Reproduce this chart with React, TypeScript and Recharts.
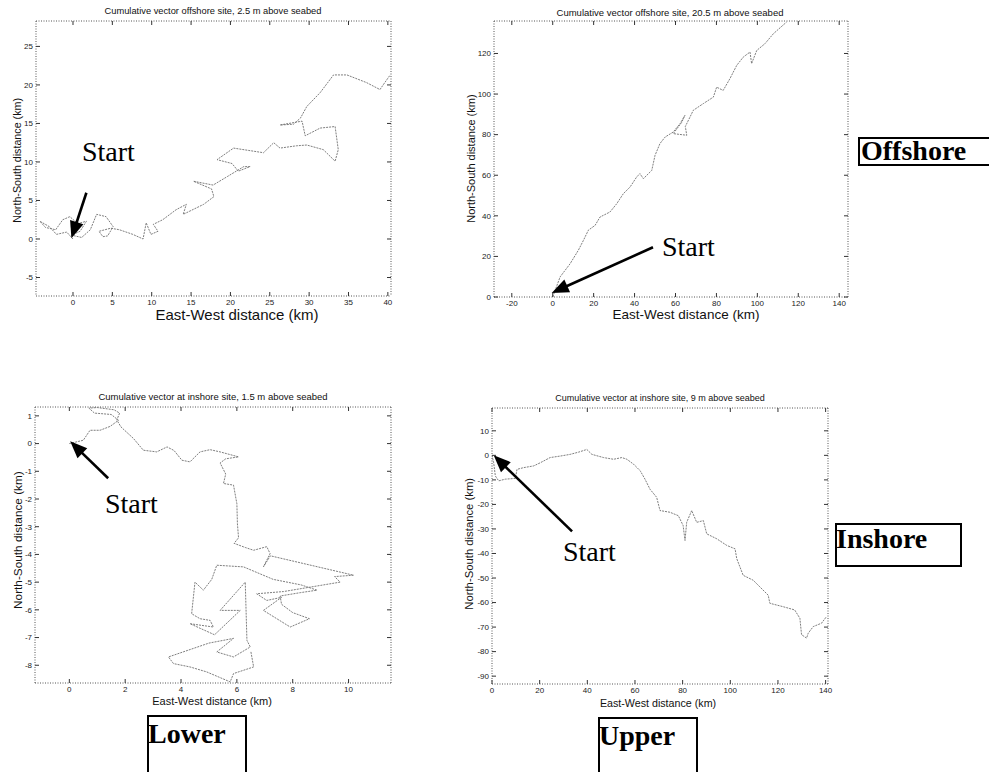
import { LineChart, Line, XAxis, YAxis, ReferenceLine } from 'recharts';

// offshore, 2.5 m above seabed (km)
const offLowX = [0, -0.8, -2.1, -3.0, -4.2, -3.5, -2.2, -1.3, -0.4, 0.6, 1.7, 0.9, -0.2, 1.1, 2.2, 3.0, 4.2, 5.1, 4.4, 3.8, 3.3, 4.8, 5.9, 7.6, 8.9, 9.3, 9.9, 10.8, 10.2, 11.4, 13.1, 14.4, 14.0, 16.6, 17.9, 17.6, 15.3, 17.8, 19.6, 21.7, 22.5, 21.0, 20.2, 18.3, 20.4, 24.2, 25.5, 26.3, 28.4, 29.7, 31.8, 33.3, 33.7, 33.3, 31.4, 29.5, 29.1, 26.3, 28.0, 28.9, 29.7, 31.4, 33.1, 34.8, 37.3, 39.0, 39.4, 40.3];
const offLowY = [0, 0.9, 0.6, 1.6, 2.3, 1.5, 1.2, 2.5, 2.9, 2.0, 2.3, 1.0, 0.5, 0.2, 1.2, 3.2, 2.9, 1.6, 0.4, 0.3, 1.0, 1.4, 1.2, 0.6, 0.0, 2.1, 0.6, 1.0, 1.9, 2.5, 3.8, 4.5, 3.2, 4.5, 5.5, 6.5, 7.5, 7.0, 8.1, 9.4, 9.4, 8.8, 9.8, 10.3, 11.8, 11.2, 12.5, 11.8, 12.1, 12.2, 11.6, 10.1, 11.6, 14.6, 14.4, 13.4, 15.3, 14.8, 14.9, 15.7, 17.2, 19.0, 21.3, 21.3, 20.3, 19.4, 20.0, 21.3];

// offshore, 20.5 m above seabed
const offUpX = [0, 3.6, 8.5, 12.5, 15.0, 17.4, 20.7, 23.1, 28.0, 31.3, 34.5, 37.8, 41.0, 42.6, 44.3, 48.4, 50.0, 52.4, 54.9, 58.9, 62.2, 64.6, 63.0, 58.9, 65.5, 64.8, 68.7, 73.6, 78.5, 80.1, 83.3, 86.6, 89.9, 93.1, 96.4, 97.2, 99.7, 103.7, 107.8, 114.3];
const offUpY = [0, 9.9, 16.4, 23.0, 27.9, 32.9, 35.3, 39.4, 41.9, 46.0, 50.9, 54.2, 59.1, 60.8, 58.3, 62.4, 69.8, 75.6, 78.8, 81.3, 85.4, 89.5, 86.0, 80.5, 79.7, 84.0, 92.0, 95.3, 98.5, 103.4, 101.8, 107.6, 114.1, 118.2, 120.7, 115.0, 121.5, 124.8, 129.7, 135.5];

// inshore, 1.5 m above seabed
const inLowX = [0, 0.5, 0.74, 1.1, 1.46, 1.76, 1.5, 0.9, 0.7, 1.0, 1.6, 1.8, 1.7, 1.85, 2.3, 2.65, 3.13, 3.5, 3.75, 4.03, 4.32, 4.68, 5.04, 5.4, 6.06, 5.6, 5.4, 5.6, 5.52, 5.88, 6.0, 6.02, 6.06, 5.9, 6.3, 6.6, 7.07, 7.19, 6.95, 7.2, 10.18, 9.5, 9.7, 7.67, 6.71, 7.07, 7.6, 6.95, 7.91, 8.6, 8.0, 7.6, 7.55, 8.27, 8.87, 8.3, 7.3, 6.24, 5.28, 5.1, 4.8, 4.5, 4.38, 4.68, 5.04, 5.16, 4.32, 5.2, 6.12, 5.4, 6.3, 6.36, 6.48, 5.88, 5.28, 5.88, 5.0, 3.55, 3.73, 4.32, 4.92, 5.76, 5.88, 6.6, 6.5];
const inLowY = [0, 0.12, 0.48, 0.48, 0.62, 0.84, 1.05, 1.1, 1.28, 1.3, 1.22, 1.1, 0.85, 0.6, 0.18, -0.24, -0.3, -0.12, -0.25, -0.6, -0.66, -0.3, -0.22, -0.3, -0.48, -0.55, -0.7, -1.1, -1.44, -1.5, -2.17, -2.9, -3.4, -3.6, -3.75, -3.85, -3.72, -3.97, -4.45, -4.05, -4.75, -4.8, -5.0, -5.34, -5.42, -5.66, -5.55, -6.02, -6.62, -6.32, -6.1, -5.8, -5.5, -5.38, -5.29, -5.1, -4.9, -4.45, -4.39, -4.9, -5.29, -5.0, -6.14, -6.32, -6.38, -6.62, -6.5, -6.9, -6.02, -6.02, -5.0, -7.1, -7.34, -7.7, -7.52, -7.03, -7.2, -7.7, -7.94, -8.06, -8.24, -8.6, -8.3, -8.06, -7.5];

// inshore, 9 m above seabed
const inUpX = [0, 0.7, 1.4, 2.8, 5.6, 9.8, 10.5, 13.3, 17.5, 20.3, 24.4, 28.6, 32.8, 36.3, 39.8, 41.9, 46.8, 51.0, 54.5, 56.6, 59.4, 62.2, 64.2, 66.3, 69.1, 70.5, 74.7, 78.2, 80.2, 81.0, 81.7, 83.8, 85.9, 88.7, 90.1, 94.3, 98.5, 102.0, 102.7, 105.4, 109.6, 112.4, 115.9, 116.6, 122.2, 127.0, 129.2, 129.9, 132.0, 132.7, 134.8, 138.3, 140.4];
const inUpY = [0, -3.0, -8.4, -10.4, -9.7, -9.4, -5.7, -5.0, -4.3, -3.0, -0.9, -0.3, 0.4, 1.3, 2.4, 0.4, -0.9, -1.6, -0.9, -1.6, -3.6, -6.3, -9.7, -13.8, -17.1, -22.5, -23.2, -24.6, -28.6, -34.7, -27.3, -22.5, -27.3, -26.6, -32.0, -34.0, -36.7, -38.1, -42.1, -48.9, -50.9, -53.6, -57.0, -60.3, -61.7, -63.0, -66.4, -73.1, -74.5, -72.5, -69.8, -68.4, -65.7];

const ticks1X = [0, 5, 10, 15, 20, 25, 30, 35, 40];
const ticks1Y = [-5, 0, 5, 10, 15, 20, 25];
const ticks2X = [-20, 0, 20, 40, 60, 80, 100, 120, 140];
const ticks2Y = [0, 20, 40, 60, 80, 100, 120];
const ticks3X = [0, 2, 4, 6, 8, 10];
const ticks3Y = [-8, -7, -6, -5, -4, -3, -2, -1, 0, 1];
const ticks4X = [0, 20, 40, 60, 80, 100, 120, 140];
const ticks4Y = [-90, -80, -70, -60, -50, -40, -30, -20, -10, 0, 10];

const titles = [
  'Cumulative vector offshore site, 2.5 m above seabed',
  'Cumulative vector offshore site, 20.5 m above seabed',
  'Cumulative vector at inshore site, 1.5 m above seabed',
  'Cumulative vector at inshore site, 9 m above seabed',
];

const zip = (xs: number[], ys: number[]) => xs.map((x, i) => ({ x, y: ys[i] }));

const axisLine = { stroke: '#555', strokeDasharray: '1 1.5' };
const tickLine = { stroke: '#333' };
const tickFont = { fontSize: 8, fill: '#222', fontFamily: 'Liberation Sans, Arial, sans-serif' };
const sans = 'Liberation Sans, Arial, sans-serif';
const serif = 'Liberation Serif, Times New Roman, serif';

const Arrow = (p: any) => {
  const { x1, y1, x2, y2 } = p;
  const dx = x2 - x1;
  const dy = y2 - y1;
  const len = Math.hypot(dx, dy) || 1;
  const ux = dx / len;
  const uy = dy / len;
  const hl = 17;
  const hw = 7;
  const bx = x2 - ux * hl;
  const by = y2 - uy * hl;
  return (
    <g>
      <line x1={x1} y1={y1} x2={bx + ux * 2} y2={by + uy * 2} stroke="#000" strokeWidth={2.6} />
      <polygon
        points={`${x2},${y2} ${bx - uy * hw},${by + ux * hw} ${bx + uy * hw},${by - ux * hw}`}
        fill="#000"
      />
    </g>
  );
};

interface PanelProps {
  box: { l: number; t: number; r: number; b: number };
  xs: number[];
  ys: number[];
  xDomain: [number, number];
  yDomain: [number, number];
  xTicks: number[];
  yTicks: number[];
  arrow: [{ x: number; y: number }, { x: number; y: number }];
}

function Panel({ box, xs, ys, xDomain, yDomain, xTicks, yTicks, arrow }: PanelProps) {
  const w = box.r - box.l;
  const h = box.b - box.t;
  return (
    <div style={{ position: 'absolute', left: box.l - 40, top: box.t - 10 }}>
      <LineChart
        width={w + 50}
        height={h + 30}
        data={zip(xs, ys)}
        margin={{ top: 9, right: 9, bottom: 0, left: 0 }}
      >
        <XAxis
          xAxisId="b"
          type="number"
          dataKey="x"
          domain={xDomain}
          ticks={xTicks}
          interval={0}
          allowDataOverflow
          height={20}
          tickSize={-4}
          tickMargin={7}
          axisLine={axisLine}
          tickLine={tickLine}
          tick={tickFont}
        />
        <XAxis
          xAxisId="t"
          orientation="top"
          type="number"
          dataKey="x"
          domain={xDomain}
          ticks={xTicks}
          interval={0}
          allowDataOverflow
          height={1}
          tickSize={-4}
          tickFormatter={() => ''}
          axisLine={axisLine}
          tickLine={tickLine}
        />
        <YAxis
          yAxisId="l"
          type="number"
          domain={yDomain}
          ticks={yTicks}
          interval={0}
          allowDataOverflow
          width={40}
          tickSize={-4}
          tickMargin={7}
          axisLine={axisLine}
          tickLine={tickLine}
          tick={tickFont}
        />
        <YAxis
          yAxisId="r"
          orientation="right"
          type="number"
          domain={yDomain}
          ticks={yTicks}
          interval={0}
          allowDataOverflow
          width={1}
          tickSize={-4}
          tickFormatter={() => ''}
          axisLine={axisLine}
          tickLine={tickLine}
        />
        <Line
          xAxisId="b"
          yAxisId="l"
          dataKey="y"
          stroke="#6f6f6f"
          strokeWidth={0.9}
          strokeDasharray="2 1"
          dot={false}
          isAnimationActive={false}
        />
        <ReferenceLine xAxisId="b" yAxisId="l" segment={arrow} ifOverflow="visible" shape={Arrow} />
      </LineChart>
    </div>
  );
}

const Txt = ({ cx, cy, size, text, rot }: { cx: number; cy: number; size: number; text: string; rot?: boolean }) => (
  <div
    style={{
      position: 'absolute',
      left: cx - 150,
      top: cy - size * 0.6,
      width: 300,
      textAlign: 'center',
      fontFamily: sans,
      fontSize: size,
      lineHeight: `${size * 1.2}px`,
      color: '#111',
      whiteSpace: 'nowrap',
      transform: rot ? 'rotate(-90deg)' : undefined,
    }}
  >
    {text}
  </div>
);

const Start = ({ left, top }: { left: number; top: number }) => (
  <div style={{ position: 'absolute', left, top, fontFamily: serif, fontSize: 28, lineHeight: 1, color: '#000' }}>
    Start
  </div>
);

const Tag = ({ l, t, w, h, tl, tt, text, noBottom }: any) => (
  <>
    <div
      style={{
        position: 'absolute',
        left: l,
        top: t,
        width: w,
        height: h,
        border: '2px solid #000',
        borderBottom: noBottom ? 'none' : '2px solid #000',
        boxSizing: 'border-box',
      }}
    />
    <div
      style={{
        position: 'absolute',
        left: tl,
        top: tt,
        fontFamily: serif,
        fontWeight: 'bold',
        fontSize: 28,
        lineHeight: 1,
        color: '#000',
      }}
    >
      {text}
    </div>
  </>
);

export default function App() {
  return (
    <div style={{ position: 'relative', width: 989, height: 772, overflow: 'hidden', background: '#fff' }}>
      <style>{'body{margin:0}'}</style>

      <Panel
        box={{ l: 36, t: 21, r: 391, b: 296 }}
        xs={offLowX}
        ys={offLowY}
        xDomain={[-4.7, 40.4]}
        yDomain={[-7.4, 28.3]}
        xTicks={ticks1X}
        yTicks={ticks1Y}
        arrow={[{ x: 1.7, y: 6.0 }, { x: -0.2, y: 0.1 }]}
      />
      <Panel
        box={{ l: 494, t: 21, r: 848, b: 297 }}
        xs={offUpX}
        ys={offUpY}
        xDomain={[-28.7, 144.3]}
        yDomain={[0, 136]}
        xTicks={ticks2X}
        yTicks={ticks2Y}
        arrow={[{ x: 49, y: 24.5 }, { x: -0.5, y: 2 }]}
      />
      <Panel
        box={{ l: 35, t: 407, r: 391, b: 683 }}
        xs={inLowX}
        ys={inLowY}
        xDomain={[-1.23, 11.52]}
        yDomain={[-8.64, 1.32]}
        xTicks={ticks3X}
        yTicks={ticks3Y}
        arrow={[{ x: 1.39, y: -1.25 }, { x: 0.03, y: 0.08 }]}
      />
      <Panel
        box={{ l: 492, t: 408, r: 828, b: 684 }}
        xs={inUpX}
        ys={inUpY}
        xDomain={[0, 141]}
        yDomain={[-93.2, 19.3]}
        xTicks={ticks4X}
        yTicks={ticks4Y}
        arrow={[{ x: 33.6, y: -31 }, { x: 0.7, y: 0 }]}
      />

      <Txt cx={213} cy={12} size={9.3} text={titles[0]} />
      <Txt cx={670} cy={13} size={9.5} text={titles[1]} />
      <Txt cx={213} cy={397} size={9.5} text={titles[2]} />
      <Txt cx={660} cy={398} size={9} text={titles[3]} />

      <Txt cx={237} cy={315} size={15} text="East-West distance (km)" />
      <Txt cx={686} cy={315} size={13.5} text="East-West distance (km)" />
      <Txt cx={212} cy={702} size={11} text="East-West distance (km)" />
      <Txt cx={658} cy={703} size={10.7} text="East-West distance (km)" />

      <Txt cx={17} cy={160} size={10.7} rot text="North-South distance (km)" />
      <Txt cx={472} cy={159} size={11} rot text="North-South distance (km)" />
      <Txt cx={18} cy={540} size={11.8} rot text="North-South distance (km)" />
      <Txt cx={470} cy={544} size={11.3} rot text="North-South distance (km)" />

      <Start left={82} top={138} />
      <Start left={662} top={233} />
      <Start left={105} top={490} />
      <Start left={563} top={538} />

      <Tag l={858} t={137} w={140} h={29} tl={861} tt={137} text="Offshore" />
      <Tag l={835} t={523} w={127} h={44} tl={836} tt={525} text="Inshore" />
      <Tag l={147} t={715} w={100} h={70} tl={148} tt={720} text="Lower" noBottom />
      <Tag l={598} t={717} w={100} h={70} tl={599} tt={722} text="Upper" noBottom />
    </div>
  );
}
